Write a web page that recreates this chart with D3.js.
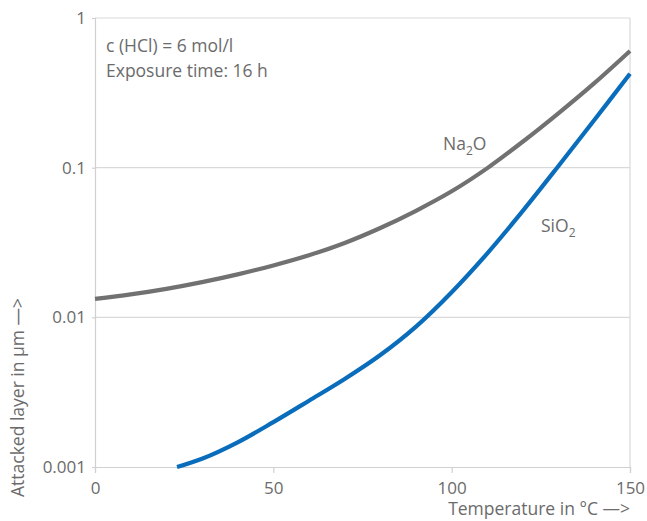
<!DOCTYPE html>
<html><head><meta charset="utf-8">
<script src="https://cdn.jsdelivr.net/npm/d3@7"></script>
<style>
body{margin:0;background:#fff;}
text{font-family:"Open Sans","Noto Sans",sans-serif;fill:#6b6b6b;}
</style></head>
<body><svg id="c" width="647" height="521"></svg>
<script>
const na2oTemp = [0,10,20,30,40,50,60,70,80,90,100,110,120,130,140,150];
const na2oVal  = [0.01327,0.01422,0.01549,0.01718,0.01936,0.02223,0.02600,0.03141,0.03954,0.05152,0.06950,0.09931,0.1496,0.2317,0.3673,0.6026];
const sio2Temp = [23,30,40,50,60,70,80,90,100,110,120,130,140,150];
const sio2Val  = [0.00100,0.001135,0.001462,0.001995,0.002773,0.003873,0.005598,0.008670,0.01472,0.02679,0.05164,0.1030,0.2080,0.4246];
const xTicks = [0,50,100,150];
const yTicks = [0.001,0.01,0.1,1];
const yTickLabels = ["0.001","0.01","0.1","1"];
const infoLines = ["c (HCl) = 6 mol/l","Exposure time: 16 h"];

const svg = d3.select("#c");
const L=95,R=630,T=18,B=467;
const x = d3.scaleLinear().domain([0,150]).range([L,R]);
const y = d3.scaleLog().domain([0.001,1]).range([B,T]);

// grid
svg.append("g").selectAll("line").data(yTicks.slice(1)).join("line")
  .attr("x1",L).attr("x2",R).attr("y1",d=>y(d)).attr("y2",d=>y(d))
  .attr("stroke","#d9d9d9").attr("stroke-width",1.2);
// right border
svg.append("line").attr("x1",R).attr("x2",R).attr("y1",T).attr("y2",B)
  .attr("stroke","#d9d9d9").attr("stroke-width",1.2);

// x axis
const xAxis = d3.axisBottom(x).tickValues(xTicks).tickSize(6).tickPadding(9).tickFormat(d3.format("d"));
const gx = svg.append("g").attr("transform",`translate(0,${B})`).call(xAxis);
gx.select(".domain").attr("stroke","#d0d0d0").attr("stroke-width",1.2);
gx.selectAll(".tick line").attr("stroke","#d0d0d0").attr("stroke-width",1.2);
gx.selectAll(".tick text").style("font-size","17px").attr("fill","#6b6b6b");

// y axis
const yAxis = d3.axisLeft(y).tickValues(yTicks).tickSize(3).tickPadding(6).tickFormat((d,i)=>yTickLabels[i]);
const gy = svg.append("g").attr("transform",`translate(${L},0)`).call(yAxis);
gy.select(".domain").attr("stroke","#d0d0d0").attr("stroke-width",1.2);
gy.selectAll(".tick line").attr("stroke","#d0d0d0").attr("stroke-width",1.2);
gy.selectAll(".tick text").style("font-size","17px").attr("fill","#6b6b6b");

// lines
const line = d3.line().x(d=>x(d[0])).y(d=>y(d[1])).curve(d3.curveCatmullRom.alpha(0.5));
svg.append("path").datum(na2oTemp.map((t,i)=>[t,na2oVal[i]]))
  .attr("d",line).attr("fill","none").attr("stroke","#717171").attr("stroke-width",4.2);
svg.append("path").datum(sio2Temp.map((t,i)=>[t,sio2Val[i]]))
  .attr("d",line).attr("fill","none").attr("stroke","#0a6dbb").attr("stroke-width",4.2);

// labels
const lab1 = svg.append("text").attr("x",443).attr("y",150).style("font-size","17.5px");
lab1.append("tspan").text("Na");
lab1.append("tspan").text("2").style("font-size","12px").attr("dy",5);
lab1.append("tspan").text("O").attr("dy",-5);
const lab2 = svg.append("text").attr("x",541).attr("y",232).style("font-size","17.5px");
lab2.append("tspan").text("SiO");
lab2.append("tspan").text("2").style("font-size","12px").attr("dy",5);

svg.append("g").selectAll("text").data(infoLines).join("text")
  .attr("x",106).attr("y",(d,i)=>52+i*25).style("font-size","17.5px").text(d=>d);

// axis titles
svg.append("text").attr("x",R).attr("y",515).attr("text-anchor","end")
  .style("font-size","17.5px").text("Temperature in °C —>");
svg.append("text").attr("transform","translate(24,497) rotate(-90)")
  .style("font-size","17.5px").text("Attacked layer in µm —>");
</script></body></html>
